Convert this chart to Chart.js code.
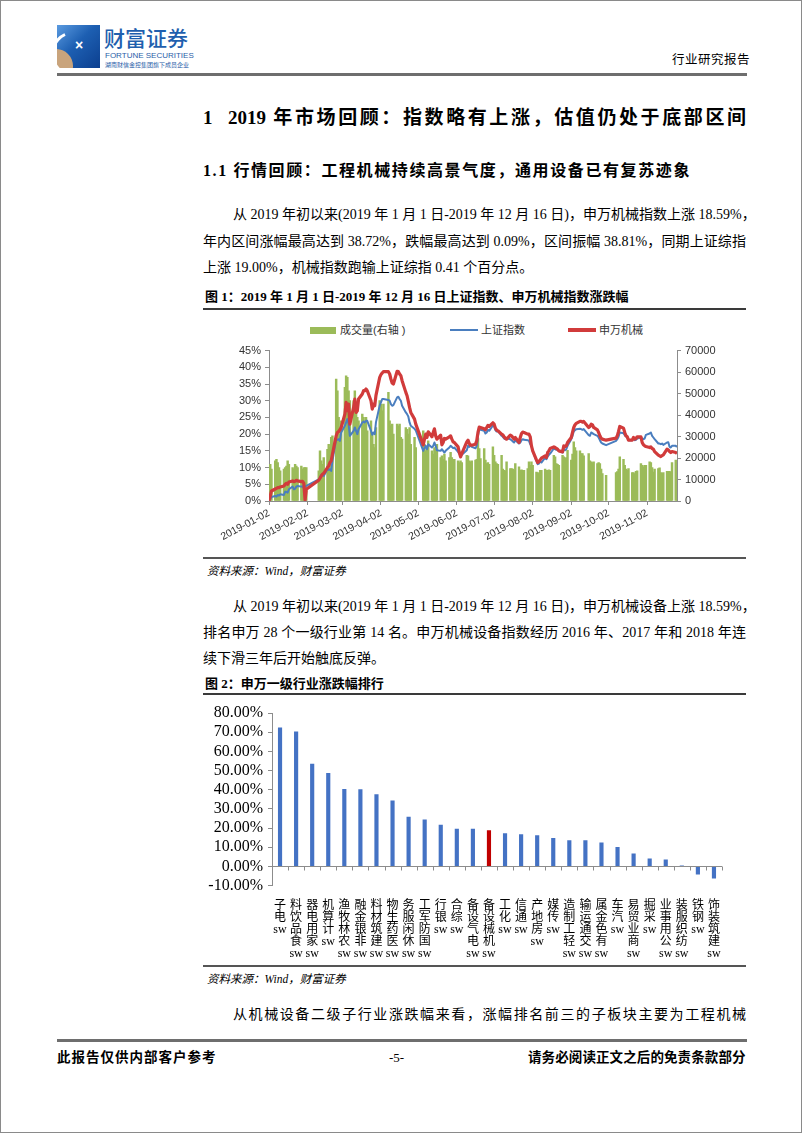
<!DOCTYPE html>
<html lang="zh">
<head>
<meta charset="UTF-8">
<title>行业研究报告</title>
<script src="https://cdn.jsdelivr.net/npm/chart.js"></script>
<style>
  body { margin: 0; background: #fff; }
  #page { position: relative; width: 802px; height: 1133px; overflow: hidden; background: #fff;
          font-family: "Liberation Serif", "Noto Sans CJK SC", serif; color: #000; }
  .frame { position: absolute; left: 0; top: 0; width: 802px; height: 1133px; box-sizing: border-box; border: 1px solid #8a8a8a; }
  .abs { position: absolute; white-space: nowrap; }
  .rule { position: absolute; }
  .para { position: absolute; font-size: 14px; line-height: 20px; white-space: nowrap; }
  .just { text-align: justify; text-align-last: justify; }
  .figt { position: absolute; left: 205px; font-size: 13px; line-height: 18px; font-weight: bold; white-space: nowrap; }
  .src { position: absolute; left: 207px; font-size: 11.5px; line-height: 16px; font-style: italic; white-space: nowrap; }
  .leg { position: absolute; font: 11px "Liberation Sans", "Noto Sans CJK SC", sans-serif; color: #333; line-height: 14px; white-space: nowrap; }
</style>
</head>
<body>
<div id="page">
  <div class="frame"></div>

  <!-- header -->
  <div style="position:absolute;left:57px;top:25px;width:43px;height:43px;overflow:hidden;background:linear-gradient(135deg,#5b9be0 0%,#1d5fb2 45%,#0c3f8f 100%);">
    <div style="position:absolute;left:-18px;top:24px;width:34px;height:34px;border-radius:50%;background:#c9a47c;"></div>
    <div style="position:absolute;left:-6px;top:6px;width:40px;height:40px;border-radius:50%;border:3px solid transparent;border-left-color:#fff;border-bottom-color:#fff;transform:rotate(20deg);"></div>
    <div style="position:absolute;left:18px;top:12px;color:#fff;font:bold 14px 'Liberation Sans',sans-serif;">×</div>
  </div>
  <div class="abs" style="left:104px;top:24px;font:500 21px 'Noto Sans CJK SC',sans-serif;color:#1f5fae;line-height:26px;">财富证券</div>
  <div class="abs" style="left:105px;top:51px;font:8px 'Liberation Sans',sans-serif;color:#2b5ea8;line-height:10px;">FORTUNE SECURITIES</div>
  <div class="abs" style="left:105px;top:61px;font:6px 'Noto Sans CJK SC',sans-serif;color:#2b5ea8;line-height:8px;">湖南财信金控集团旗下成员企业</div>
  <div class="abs" style="left:672px;top:52px;font-size:12.5px;line-height:16px;letter-spacing:0.5px;">行业研究报告</div>
  <div class="rule" style="left:57px;top:73px;width:690px;height:3px;background:#6e6e6e;"></div>

  <!-- headings -->
  <div class="abs" style="left:203px;top:105px;font-size:19px;line-height:26px;font-weight:bold;">1</div>
  <div class="abs just" style="left:228px;width:518px;top:105px;font-size:19px;line-height:26px;font-weight:bold;">2019 年市场回顾：指数略有上涨，估值仍处于底部区间</div>
  <div class="abs" style="left:203px;top:160px;font-size:16px;line-height:22px;font-weight:bold;letter-spacing:1.6px;">1.1 行情回顾：工程机械持续高景气度，通用设备已有复苏迹象</div>

  <!-- paragraph 1 -->
  <div class="para just" style="left:233px;width:513px;top:205px;">从 2019 年初以来(2019 年 1 月 1 日-2019 年 12 月 16 日)，申万机械指数上涨 18.59%，</div>
  <div class="para just" style="left:203px;width:543px;top:232px;">年内区间涨幅最高达到 38.72%，跌幅最高达到 0.09%，区间振幅 38.81%，同期上证综指</div>
  <div class="para" style="left:203px;top:258px;">上涨 19.00%，机械指数跑输上证综指 0.41 个百分点。</div>

  <!-- figure 1 -->
  <div class="figt" style="top:288px;">图 1：2019 年 1 月 1 日-2019 年 12 月 16 日上证指数、申万机械指数涨跌幅</div>
  <div class="rule" style="left:203px;top:308px;width:543px;height:2px;background:#3a3a3a;"></div>

  <div class="rule" style="left:310px;top:327px;width:26px;height:7px;background:#9bbb59;"></div>
  <div class="leg" style="left:340px;top:323px;">成交量(右轴 )</div>
  <div class="rule" style="left:450px;top:329px;width:28px;height:2px;background:#4a7ebf;"></div>
  <div class="leg" style="left:481px;top:323px;">上证指数</div>
  <div class="rule" style="left:568px;top:328px;width:28px;height:4px;background:#d13b3b;"></div>
  <div class="leg" style="left:599px;top:323px;">申万机械</div>

  <div style="position:absolute;left:200px;top:340px;width:530px;height:217px;">
    <canvas id="marketChart" width="530" height="217"></canvas>
  </div>
  <div class="rule" style="left:203px;top:557px;width:543px;height:1.5px;background:#555;"></div>
  <div class="src" style="top:563px;">资料来源：Wind，财富证券</div>

  <!-- paragraph 2 -->
  <div class="para just" style="left:233px;width:513px;top:597px;">从 2019 年初以来(2019 年 1 月 1 日-2019 年 12 月 16 日)，申万机械设备上涨 18.59%，</div>
  <div class="para just" style="left:203px;width:543px;top:623px;">排名申万 28 个一级行业第 14 名。申万机械设备指数经历 2016 年、2017 年和 2018 年连</div>
  <div class="para" style="left:203px;top:649px;">续下滑三年后开始触底反弹。</div>

  <!-- figure 2 -->
  <div class="figt" style="top:675px;">图 2：申万一级行业涨跌幅排行</div>
  <div class="rule" style="left:203px;top:693px;width:543px;height:2px;background:#3a3a3a;"></div>
  <div style="position:absolute;left:200px;top:700px;width:530px;height:264px;">
    <canvas id="industryChart" width="530" height="264"></canvas>
  </div>
  <div class="rule" style="left:203px;top:965px;width:543px;height:1.5px;background:#555;"></div>
  <div class="src" style="top:971px;">资料来源：Wind，财富证券</div>

  <!-- paragraph 3 -->
  <div class="para just" style="left:233px;width:513px;top:1005px;">从机械设备二级子行业涨跌幅来看，涨幅排名前三的子板块主要为工程机械</div>

  <!-- footer -->
  <div class="rule" style="left:57px;top:1039px;width:690px;height:3px;background:#6e6e6e;"></div>
  <div class="abs" style="left:57px;top:1049px;font-size:13.5px;line-height:18px;font-weight:bold;letter-spacing:1px;">此报告仅供内部客户参考</div>
  <div class="abs" style="left:389px;top:1049px;font-size:13px;line-height:18px;">-5-</div>
  <div class="abs" style="left:528px;top:1049px;font-size:13.5px;line-height:18px;font-weight:bold;letter-spacing:0.1px;">请务必阅读正文之后的免责条款部分</div>
</div>

<script>
// ---------- figure 1 data: 2019 trading days, Jan 2 - Nov 26 ----------
var firstDay = '2019-01-02';
var lastDay = '2019-11-26';
var holidays = ['2019-02-04', '2019-02-05', '2019-02-06', '2019-02-07', '2019-02-08', '2019-04-05',
                '2019-05-01', '2019-05-02', '2019-05-03', '2019-06-07', '2019-09-13',
                '2019-10-01', '2019-10-02', '2019-10-03', '2019-10-04', '2019-10-07'];
var xTickLabels = ['2019-01-02', '2019-02-02', '2019-03-02', '2019-04-02', '2019-05-02', '2019-06-02',
                   '2019-07-02', '2019-08-02', '2019-09-02', '2019-10-02', '2019-11-02'];

// 成交量 (right axis), one value per trading day, month by month
var volume = [
  10900,17100,14800,18700,19400,17900,15600,14000,14800,15600,16300,18700,17100,15600,14800,17100,16300,15600,16300,14800,15600,15600,
  15600,14000,23300,18700,17100,20200,24100,26400,24900,29600,30300,56800,51300,38900,31100,
  37300,52900,58300,57600,51300,46700,46700,51300,42000,38900,37300,40400,38900,37300,38900,32700,37300,31100,26400,24900,34200,
  46700,45100,42000,45100,50600,37300,35000,35800,31100,35800,35000,35800,29600,28800,34200,33400,31100,34200,26400,29600,24900,
  32700,26400,23300,24100,28000,23300,21800,24900,24100,26400,20200,21000,19400,21800,18700,20200,22600,20200,19400,19400,
  18700,17900,18700,17900,21300,21000,18700,18200,18700,19000,19400,29100,24400,19800,24400,19000,17400,17900,17100,
  25200,21300,18200,17400,17100,21300,14800,14300,14000,18200,15100,15100,14800,14300,17400,15900,14300,14500,14300,14300,15100,18200,16600,
  18200,16600,13500,13200,12800,14300,14300,14800,14300,14300,14500,14300,21300,20500,17400,17100,16600,21300,20500,19800,20200,23600,
  19000,21800,27500,24900,23300,23300,22100,22100,21000,22100,18700,18200,17900,18200,17400,17900,17400,14800,12800,12000,
  13200,13700,14800,20500,19400,16600,14800,14300,15100,13200,13200,12800,13800,14000,17400,16600,15900,16600,
  16600,18200,17900,15600,13500,14800,15100,15400,13200,12800,13200,13800,13800,13800,13500,17900,19000,18200
];

// 上证指数, % change since 2019-01-02
var shIndex = [
  0,0.5,1.2,1.5,1.3,1.8,1.6,2.0,1.8,2.8,2.7,2.5,3.5,4.3,3.5,3.7,4.3,4.5,4.3,4.4,3.8,4.3,
  4.5,6.5,7.0,7.8,8.0,7.5,9.5,9.3,9.5,9.0,12.0,18.5,18.3,18.5,18.0,
  20.5,22.5,23.5,24.5,23.0,19.5,21.0,22.0,21.0,20.0,21.5,23.5,23.8,23.5,24.0,24.0,21.0,19.8,20.5,20.0,23.6,
  28.6,29.5,30.5,30.5,30.2,30.0,29.0,28.5,28.7,31.0,31.2,30.5,30.0,28.5,26.5,26.0,25.3,23.5,22.5,21.6,21.1,
  15.0,15.8,16.5,15.5,17.0,16.0,16.5,17.5,16.5,15.2,15.0,15.5,15.0,14.5,15.0,16.0,16.5,16.2,15.8,16.0,
  14.7,14.2,13.7,13.8,15.2,16.5,16.2,16.7,16.2,15.8,16.5,19.5,21.6,21.3,21.0,20.2,20.5,21.3,21.0,
  22.6,22.3,21.2,20.8,21.0,19.5,19.2,18.7,18.5,18.8,18.5,18.2,17.8,17.5,18.2,17.2,17.5,18.2,18.5,18.3,18.2,18.0,17.0,
  16.5,15.0,12.0,11.0,11.2,11.8,11.5,13.0,12.5,13.3,13.8,14.2,15.7,15.5,15.3,15.3,15.0,14.5,15.5,15.2,15.5,16.5,
  18.5,19.5,20.8,21.2,21.5,21.6,21.5,21.3,21.5,19.7,19.5,20.5,20.3,20.0,19.5,19.0,18.2,17.5,17.2,16.7,
  18.0,18.5,19.2,20.5,20.3,19.7,19.3,19.2,18.2,18.2,18.7,18.2,18.3,18.7,19.0,18.7,18.5,18.7,
  19.8,20.2,20.5,19.5,19.0,18.5,17.2,17.2,17.0,17.2,16.8,17.5,17.6,16.2,16.0,16.5,16.5,16.2
];

// 申万机械, % change since 2019-01-02
var swMachinery = [
  0,1.5,3.0,3.6,3.8,4.0,4.0,4.2,4.5,5.0,5.3,5.0,5.7,6.0,5.8,5.9,6.2,6.0,5.8,5.9,5.3,0.3,
  3.5,6.2,6.8,7.5,8.0,8.3,10.0,10.5,11.5,12.0,14.0,19.5,20.5,20.8,21.3,
  22.0,26.0,29.5,27.0,29.0,23.0,28.0,30.5,26.5,27.0,30.5,32.0,33.0,33.0,33.5,33.0,30.0,27.5,29.0,28.5,31.6,
  37.0,37.8,38.3,38.7,38.7,38.0,36.5,35.3,35.0,38.8,38.7,38.0,37.5,36.0,32.5,31.5,29.8,28.0,26.5,24.5,23.0,
  16.8,18.5,20.0,19.0,20.7,19.2,20.5,21.6,19.5,18.5,19.7,16.8,17.5,18.7,18.5,19.2,19.5,18.5,17.7,17.5,
  16.2,14.5,13.2,14.2,17.7,18.2,17.2,16.7,16.7,17.0,18.0,20.5,22.1,22.0,21.6,21.3,22.0,22.6,22.3,
  23.4,23.0,21.8,21.2,21.0,20.0,19.8,19.2,18.8,18.5,19.7,19.5,19.0,18.5,19.0,17.5,19.0,20.2,20.6,20.5,20.0,20.0,19.2,
  16.5,15.0,12.3,11.5,11.8,12.3,12.8,13.5,13.0,14.5,15.0,15.7,16.2,16.0,15.7,15.5,15.0,14.7,16.5,16.3,16.5,17.5,
  19.0,20.5,22.0,22.8,23.2,23.8,23.8,23.6,23.8,22.0,22.3,23.0,22.8,22.0,21.3,20.5,19.5,18.8,18.5,18.2,
  18.8,19.5,20.8,22.3,21.8,20.5,19.5,19.2,18.2,18.2,19.0,18.5,18.7,19.2,19.2,17.5,16.8,16.5,
  16.3,16.0,16.2,15.7,15.5,14.8,13.7,13.5,13.3,13.6,13.8,15.5,15.3,14.8,14.5,14.8,14.5,14.2
];

// ---------- figure 2 data ----------
var industries = ['sw电子', 'sw食品饮料', 'sw家用电器', 'sw计算机', 'sw农林牧渔', 'sw非银金融', 'sw建筑材料',
                  'sw医药生物', 'sw休闲服务', 'sw国防军工', 'sw银行', 'sw综合', 'sw电气设备', 'sw机械设备',
                  'sw化工', 'sw通信', 'sw房地产', 'sw传媒', 'sw轻工制造', 'sw交通运输', 'sw有色金属',
                  'sw汽车', 'sw商业贸易', 'sw采掘', 'sw公用事业', 'sw纺织服装', 'sw钢铁', 'sw建筑装饰'];
var industryChange = [72.3, 70.2, 53.4, 48.5, 40.2, 40.1, 37.4, 34.2, 25.7, 24.2, 21.5, 19.4, 19.4, 18.59,
                      17.1, 16.6, 16.0, 14.6, 13.4, 13.4, 12.3, 9.9, 6.5, 3.9, 3.4, 0.3, -4.1, -6.2];
var highlightIndustry = 'sw机械设备';

// ---------- helpers ----------
var DAY = 86400000;
var YEAR0 = Date.UTC(2019, 0, 1);
function dayNo(s) {
    var p = s.split('-').map(Number);
    return (Date.UTC(p[0], p[1] - 1, p[2]) - YEAR0) / DAY;
}
function isoDay(n) {
    return new Date(YEAR0 + n * DAY).toISOString().slice(0, 10);
}

var tradingDays = [];
for (var n = dayNo(firstDay); n <= dayNo(lastDay); n++) {
    var wd = new Date(YEAR0 + n * DAY).getUTCDay();
    if (wd === 0 || wd === 6 || holidays.indexOf(isoDay(n)) >= 0) continue;
    tradingDays.push(n);
}
function pairs(values) {
    return values.map(function (v, i) { return { x: tradingDays[i], y: v }; });
}

Chart.defaults.font.family = '"Liberation Sans", "Noto Sans CJK SC", sans-serif';
Chart.defaults.color = '#333';
var axisGrey = '#8c8c8c';

// ---------- figure 1 ----------
new Chart(document.getElementById('marketChart').getContext('2d'), {
    type: 'bar',
    data: {
        datasets: [{
            label: '申万机械',
            type: 'line',
            data: pairs(swMachinery),
            borderColor: '#d13b3b',
            borderWidth: 3.2,
            pointRadius: 0,
            borderJoinStyle: 'round',
            yAxisID: 'y',
            order: 0
        }, {
            label: '上证指数',
            type: 'line',
            data: pairs(shIndex),
            borderColor: '#4a7ebf',
            borderWidth: 2,
            pointRadius: 0,
            borderJoinStyle: 'round',
            yAxisID: 'y',
            order: 1
        }, {
            label: '成交量(右轴 )',
            data: pairs(volume),
            backgroundColor: '#9bbb59',
            barThickness: 1.8,
            yAxisID: 'y1',
            order: 2
        }]
    },
    options: {
        responsive: false,
        animation: false,
        events: [],
        layout: { padding: { left: 39, right: 8, top: 10, bottom: 0 } },
        plugins: { legend: { display: false }, tooltip: { enabled: false } },
        scales: {
            x: {
                type: 'linear',
                offset: false,
                min: dayNo(firstDay),
                max: dayNo(lastDay),
                afterBuildTicks: function (s) {
                    s.ticks = xTickLabels.map(function (t) { return { value: dayNo(t) }; });
                },
                afterFit: function (s) { s.height = 56; },
                ticks: {
                    autoSkip: false, minRotation: 28, maxRotation: 28, padding: 2,
                    font: { size: 10.5 }, color: '#333',
                    callback: function (v, i) { return xTickLabels[i]; }
                },
                grid: { drawOnChartArea: false, offset: false, tickLength: 4, color: axisGrey },
                border: { color: axisGrey }
            },
            y: {
                position: 'left',
                min: 0, max: 45,
                afterFit: function (s) { s.width = 30; },
                ticks: { stepSize: 5, padding: 4, autoSkip: false, font: { size: 11 }, color: '#333',
                         callback: function (v) { return v + '%'; } },
                grid: { drawOnChartArea: false, tickLength: 4, color: axisGrey },
                border: { color: axisGrey }
            },
            y1: {
                position: 'right',
                min: 0, max: 70000,
                afterFit: function (s) { s.width = 45; },
                ticks: { stepSize: 10000, padding: 4, autoSkip: false, font: { size: 11 }, color: '#333',
                         callback: function (v) { return String(v); } },
                grid: { drawOnChartArea: false, tickLength: 4, color: axisGrey },
                border: { color: axisGrey }
            }
        }
    }
});

// ---------- figure 2 ----------
var zeroLine = {
    id: 'zeroLine',
    afterDatasetsDraw: function (chart) {
        var ctx = chart.ctx, x = chart.scales.x, y = chart.scales.y;
        var y0 = Math.round(y.getPixelForValue(0)) + 0.5;
        ctx.save();
        ctx.strokeStyle = axisGrey;
        ctx.lineWidth = 1;
        ctx.beginPath();
        ctx.moveTo(x.left, y0);
        ctx.lineTo(x.right, y0);
        for (var i = 0; i <= industries.length; i++) {
            var px = Math.round(x.getPixelForValue(i - 0.5)) + 0.5;
            ctx.moveTo(px, y0);
            ctx.lineTo(px, y0 + 4);
        }
        ctx.stroke();
        ctx.restore();
    }
};

new Chart(document.getElementById('industryChart').getContext('2d'), {
    type: 'bar',
    data: {
        labels: industries.map(function (s) {
            return s.slice(2).split('').reverse().concat(['sw']);
        }),
        datasets: [{
            label: '涨跌幅',
            data: industryChange,
            backgroundColor: industries.map(function (s) {
                return s === highlightIndustry ? '#c00000' : '#4472c4';
            }),
            barThickness: 3.5
        }]
    },
    plugins: [zeroLine],
    options: {
        responsive: false,
        animation: false,
        events: [],
        layout: { padding: { left: 8, right: 8, top: 10, bottom: 0 } },
        plugins: { legend: { display: false }, tooltip: { enabled: false } },
        scales: {
            x: {
                afterFit: function (s) { s.height = 78.5; },
                ticks: {
                    autoSkip: false, maxRotation: 0, minRotation: 0, padding: 6,
                    font: { family: '"Liberation Serif", "Noto Sans CJK SC", serif', size: 12, lineHeight: 1.0 },
                    color: '#000'
                },
                grid: { display: false },
                border: { display: false }
            },
            y: {
                min: -10, max: 80,
                afterFit: function (s) { s.width = 64; },
                ticks: {
                    stepSize: 10, padding: 5, autoSkip: false,
                    font: { family: '"Liberation Serif", serif', size: 16, lineHeight: 1.0 }, color: '#000',
                    callback: function (v) { return v.toFixed(2) + '%'; }
                },
                grid: { drawOnChartArea: false, tickLength: 4, color: axisGrey },
                border: { color: axisGrey }
            }
        }
    }
});
</script>
</body>
</html>
